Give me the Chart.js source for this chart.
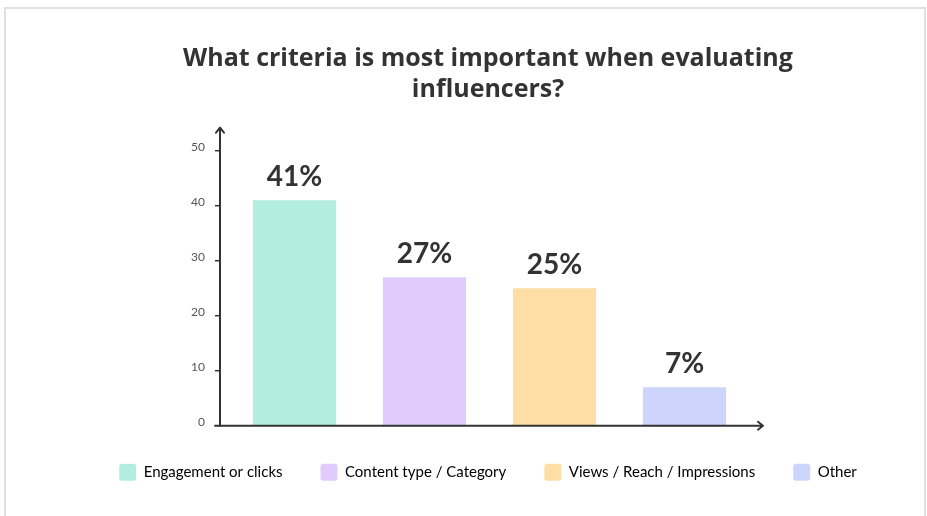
<!DOCTYPE html>
<html>
<head>
<meta charset="utf-8">
<script src="https://cdn.jsdelivr.net/npm/chart.js@4/dist/chart.umd.min.js"></script>
<style>
  html, body { margin: 0; padding: 0; background: #fff; overflow: hidden; }
  .frame {
    position: absolute; left: 4px; top: 7px; width: 918px; height: 560px;
    border: 2px solid #e0e0e0; box-sizing: content-box;
  }
  #chart { position: absolute; left: 0; top: 0; }
</style>
</head>
<body>
<div class="frame"></div>
<canvas id="chart" width="927" height="516"></canvas>
<script>
const titleLines = ['What criteria is most important when evaluating', 'influencers?'];
const categories = ['Engagement or clicks', 'Content type / Category', 'Views / Reach / Impressions', 'Other'];
const values = [41, 27, 25, 7];
const barColors = ['#b2eddf', '#e0ccfc', '#fedea4', '#ced5fc'];
const yTicks = [0, 10, 20, 30, 40, 50];

const FONT = 'Lato, "Open Sans", sans-serif';
const TITLE_FONT = '"Open Sans", Lato, sans-serif';
const INK = '#333333';

// axis lines with arrow heads, tick marks and tick labels
const axesPlugin = {
  id: 'arrowAxes',
  afterDatasetsDraw(chart) {
    const { ctx, chartArea, scales: { y } } = chart;
    const x0 = chartArea.left - 9.5;
    const y0 = y.getPixelForValue(0);
    const yTop = chartArea.top - 23;
    const xEnd = chartArea.right + 13.5;
    ctx.save();
    ctx.strokeStyle = INK;
    ctx.lineWidth = 2;
    ctx.lineCap = 'round';
    ctx.lineJoin = 'round';

    ctx.beginPath();
    ctx.moveTo(x0, y0);
    ctx.lineTo(x0, yTop);
    ctx.moveTo(x0 - 4, yTop + 5);
    ctx.lineTo(x0, yTop);
    ctx.lineTo(x0 + 4, yTop + 5);
    ctx.stroke();

    ctx.beginPath();
    ctx.moveTo(x0 - 5, y0);
    ctx.lineTo(xEnd, y0);
    ctx.moveTo(xEnd - 5, y0 - 4);
    ctx.lineTo(xEnd, y0);
    ctx.lineTo(xEnd - 5, y0 + 4);
    ctx.stroke();

    ctx.lineWidth = 1.5;
    ctx.lineCap = 'butt';
    ctx.fillStyle = '#555555';
    ctx.font = '12px ' + FONT;
    ctx.textAlign = 'right';
    ctx.textBaseline = 'alphabetic';
    y.ticks.forEach(t => {
      const py = y.getPixelForValue(t.value);
      if (t.value > 0) {
        ctx.beginPath();
        ctx.moveTo(x0 - 5, py);
        ctx.lineTo(x0, py);
        ctx.stroke();
      }
      ctx.fillText(String(t.value), x0 - 15, py);
    });
    ctx.restore();
  }
};

// percentage labels above each bar
const valueLabels = {
  id: 'valueLabels',
  afterDatasetsDraw(chart) {
    const { ctx } = chart;
    const meta = chart.getDatasetMeta(0);
    ctx.save();
    ctx.fillStyle = INK;
    ctx.font = 'bold 28px ' + FONT;
    ctx.textAlign = 'center';
    ctx.textBaseline = 'alphabetic';
    meta.data.forEach((bar, i) => {
      ctx.fillText(values[i] + '%', bar.x, bar.y - 14);
    });
    ctx.restore();
  }
};

new Chart(document.getElementById('chart').getContext('2d'), {
  type: 'bar',
  data: {
    labels: categories,
    datasets: [{
      data: values,
      backgroundColor: barColors,
      borderWidth: 0,
      categoryPercentage: 1,
      barPercentage: 0.64
    }]
  },
  options: {
    responsive: false,
    animation: false,
    devicePixelRatio: 1,
    layout: { padding: { left: 60, right: 11, top: 0, bottom: 25.3 } },
    scales: {
      x: { display: false, offset: true },
      y: {
        min: 0,
        max: 50,
        grid: { display: false },
        border: { display: false },
        ticks: { display: false },
        afterBuildTicks: s => { s.ticks = yTicks.map(v => ({ value: v })); },
        afterFit: s => { s.width = 169.5; }
      },
      yRight: {
        position: 'right',
        grid: { display: false },
        border: { display: false },
        ticks: { display: false },
        afterFit: s => { s.width = 166.5; }
      }
    },
    plugins: {
      tooltip: { enabled: false },
      title: {
        display: true,
        text: titleLines,
        color: INK,
        font: { family: TITLE_FONT, size: 25, weight: 'bold', lineHeight: 1.24 },
        padding: { top: 43, bottom: 45.7 }
      },
      legend: {
        display: true,
        position: 'bottom',
        labels: {
          boxWidth: 17,
          boxHeight: 17,
          padding: 38,
          color: INK,
          font: { family: FONT, size: 15 },
          generateLabels: chart => chart.data.labels.map((label, i) => ({
            text: label,
            fillStyle: barColors[i],
            strokeStyle: barColors[i],
            lineWidth: 0,
            borderRadius: 3,
            hidden: false,
            index: i
          }))
        }
      }
    }
  },
  plugins: [axesPlugin, valueLabels]
});
</script>
</body>
</html>
